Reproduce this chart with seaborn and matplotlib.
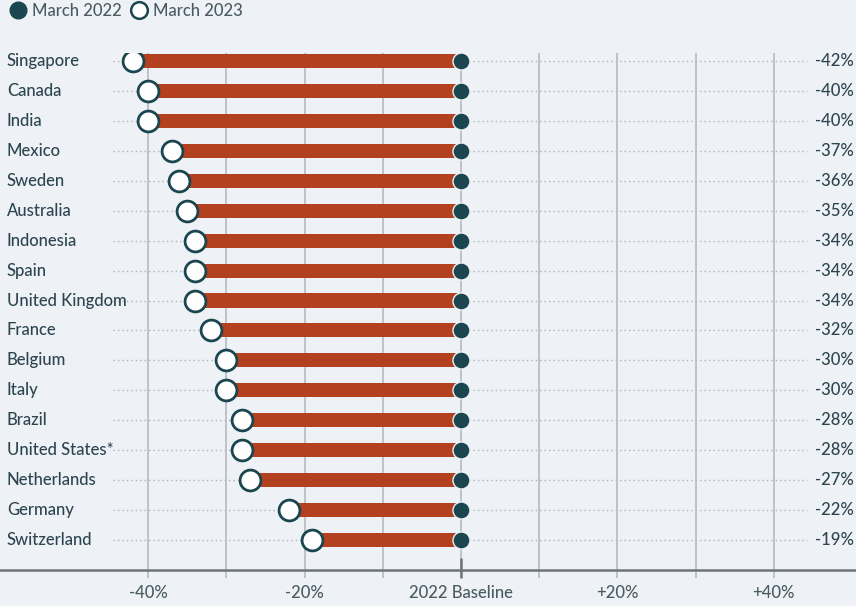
import matplotlib
matplotlib.use("Agg")
import matplotlib.pyplot as plt
import matplotlib.transforms as mtransforms
from matplotlib.lines import Line2D
import seaborn as sns
import pandas as pd

countries = ["Singapore", "Canada", "India", "Mexico", "Sweden", "Australia", "Indonesia",
             "Spain", "United Kingdom", "France", "Belgium", "Italy", "Brazil",
             "United States*", "Netherlands", "Germany", "Switzerland"]
change_2023 = [-42, -40, -40, -37, -36, -35, -34, -34, -34, -32, -30, -30, -28, -28, -27, -22, -19]
baseline_2022 = [0] * len(countries)
tick_values = [-40, -20, 0, 20, 40]
tick_labels = ["-40%", "-20%", "2022 Baseline", "+20%", "+40%"]

df = pd.DataFrame({"country": countries, "y2023": change_2023, "y2022": baseline_2022})
df["label"] = [f"{v}%" for v in change_2023]

BG = "#eef2f6"
BAR = "#b3401f"
DARK = "#1b4650"
TEXT = "#2c4550"
GRID = "#b9bfc4"
DOT = "#aab2b8"
FS = 12
FW = "medium"

sns.set_theme(style="white")
plt.rcParams["font.family"] = ["Lato", "DejaVu Sans"]

fig = plt.figure(figsize=(8.56, 6.06), dpi=100, facecolor=BG)
W, H = 856, 606
ax_top_px, ax_bot_px = 53, 570
ax = fig.add_axes([0, (H - ax_bot_px) / H, 1, (ax_bot_px - ax_top_px) / H], facecolor=BG)

px_per_unit = 7.82
x0 = 461
row_px = 29.94
row0 = 61
XLIM = ((0 - x0) / px_per_unit, (W - x0) / px_per_unit)
YLIM = ((ax_bot_px - row0) / row_px, (ax_top_px - row0) / row_px)

n = len(countries)
ypos = list(range(n))

# dotted guides
ax.hlines(ypos, -44.5, 44.3, colors=DOT, linestyles=(0, (1, 2.2)), linewidth=1.0, zorder=1)

# vertical grid lines
for v in range(-40, 41, 10):
    ax.vlines(v, YLIM[1], (578 - row0) / row_px, colors=GRID,
              linewidth=1.3, zorder=2, clip_on=False)
ax.vlines(0, (558 - row0) / row_px, (578 - row0) / row_px, colors="#6f7478",
          linewidth=1.8, zorder=6, clip_on=False)

# bars
sns.barplot(data=df, x="y2023", y="country", orient="h", color=BAR, width=0.47,
            saturation=1, ax=ax, zorder=3, edgecolor="none")

# markers
sns.scatterplot(data=df, x="y2022", y="country", s=150, color=DARK, edgecolor=BG,
                linewidth=1.0, ax=ax, zorder=5, legend=False)
sns.scatterplot(data=df, x="y2023", y="country", s=225, color="white", edgecolor=DARK,
                linewidth=2.0, ax=ax, zorder=5, legend=False)
ax.set_xlim(*XLIM)
ax.set_ylim(*YLIM)

# labels
trans = mtransforms.blended_transform_factory(ax.transAxes, ax.transData)
for i, (c, lab) in enumerate(zip(countries, df["label"])):
    ax.text(0.008, i, c, transform=trans, ha="left", va="center", fontsize=FS,
            color=TEXT, fontweight=FW)
    ax.text(0.998, i, lab, transform=trans, ha="right", va="center", fontsize=FS,
            color=TEXT, fontweight=FW)

ax.set_yticks([])
ax.set_ylabel("")
ax.set_xlabel("")
ax.set_xticks(tick_values)
ax.set_xticklabels(tick_labels, fontsize=FS, color="#4a5b63", fontweight=FW)
ax.tick_params(axis="x", length=0, pad=11)
for s in ["top", "left", "right"]:
    ax.spines[s].set_visible(False)
ax.spines["bottom"].set_color("#6f7478")
ax.spines["bottom"].set_linewidth(1.8)
ax.spines["bottom"].set_zorder(6)

handles = [
    Line2D([], [], marker="o", linestyle="none", markersize=12, markerfacecolor=DARK,
           markeredgecolor=DARK, label="March 2022"),
    Line2D([], [], marker="o", linestyle="none", markersize=12, markerfacecolor="white",
           markeredgecolor=DARK, markeredgewidth=1.8, label="March 2023"),
]
fig.legend(handles=handles, loc="upper left", bbox_to_anchor=(-0.006, 1.02), ncol=2,
           frameon=False, prop={"size": FS, "weight": FW}, handletextpad=0.35,
           columnspacing=0.5, labelcolor="#4a5b63", handlelength=1.0)

fig.savefig("out.png", dpi=100, facecolor=BG)
